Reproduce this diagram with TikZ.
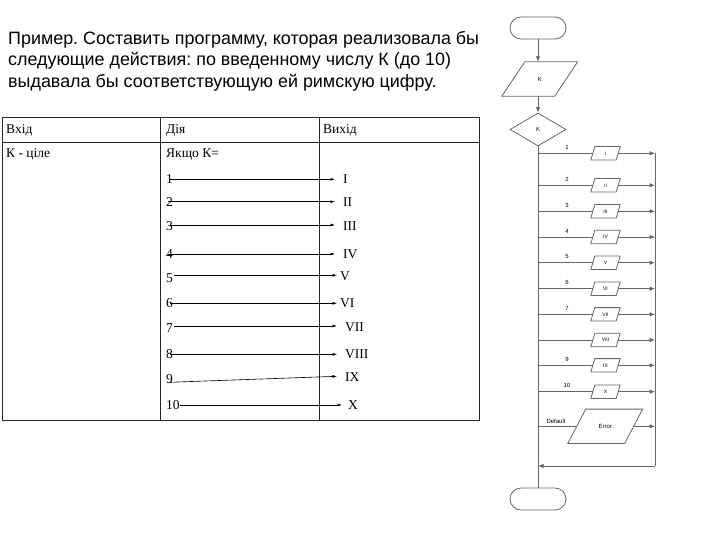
\documentclass[tikz,border=0pt]{standalone}
\usepackage{fontspec}
\setmainfont{Liberation Serif}
\newfontfamily\arialf{Liberation Sans}
\usetikzlibrary{shapes.geometric,arrows.meta,calc}
\frenchspacing
\begin{document}
\begin{tikzpicture}[x=1pt,y=-1pt,
  head/.style={anchor=base west, inner sep=0pt, font=\arialf\fontsize{17.9}{20}\selectfont},
  tbl/.style={draw=black!85, line width=1pt},
  ttext/.style={anchor=base west, inner sep=0pt, font=\fontsize{13.5}{15}\selectfont},
  num/.style={anchor=west, inner sep=0pt, font=\fontsize{13.5}{15}\selectfont},
  rom/.style={anchor=west, inner sep=0pt, font=\fontsize{13.5}{15}\selectfont},
  tarr/.style={draw=black, line width=0.6pt, -{Latex[length=4.5pt,width=3pt]}},
  fl/.style={draw=black!60, line width=0.8pt},
  flarr/.style={fl, -{Latex[length=5.5pt,width=4.5pt]}},
  term/.style={fl, rectangle, rounded corners=11pt, minimum width=56pt, minimum height=22pt},
  iobig/.style={rectangle, minimum width=52.5pt, minimum height=34pt, inner sep=0pt, font=\arialf\fontsize{6}{7}\selectfont},
  iosmall/.style={rectangle, minimum width=25pt, minimum height=13pt, inner sep=0pt, font=\arialf\fontsize{5}{6}\selectfont},
  ioerr/.style={rectangle, minimum width=56.5pt, minimum height=34pt, inner sep=0pt, font=\arialf\fontsize{6}{7}\selectfont},
  dia/.style={fl, diamond, minimum width=56pt, minimum height=33pt, inner sep=0pt, font=\arialf\fontsize{6}{7}\selectfont},
  blab/.style={inner sep=0pt, font=\arialf\fontsize{6}{7}\selectfont}
]
\useasboundingbox (0,0) rectangle (720,540);

% heading
\node[head] (h1) at (8,45) {Пример. Составить программу, которая реализовала бы};
\node[head] (h2) at (8,66) {следующие действия: по введенному числу К (до 10)};
\node[head] (h3) at (8,87.5) {выдавала бы соответствующую ей римскую цифру.};

% table
\draw[tbl] (2,117.3) rectangle (479,420.7);
\draw[tbl] (2,142.3) -- (479,142.3);
\draw[tbl] (160,117.3) -- (160,420.7);
\draw[tbl] (319,117.3) -- (319,420.7);
\node[ttext] (c1) at (6,134) {Вхід};
\node[ttext] (c2) at (166,134) {Дія};
\node[ttext] (c3) at (323,134) {Вихід};
\node[ttext] (k1) at (6,158) {К - ціле};
\node[ttext] (k2) at (166,158) {Якщо К=};

\foreach \i/\ny in {1/179, 2/201.7, 3/226, 4/254, 5/278, 6/303, 7/328, 8/354, 9/379, 10/405}{
  \node[num] (n\i) at (166,\ny) {\i};
}
\node[rom] (r1) at (343,179) {I};
\node[rom] (r2) at (343,201.7) {II};
\node[rom] (r3) at (343,226) {III};
\node[rom] (r4) at (343,254) {IV};
\node[rom] (r5) at (340,276) {V};
\node[rom] (r6) at (340,303) {VI};
\node[rom] (r7) at (345,327) {VII};
\node[rom] (r8) at (345,354) {VIII};
\node[rom] (r9) at (345,377) {IX};
\node[rom] (r10) at (348,405) {X};

\draw[tarr] ([xshift=4pt]n1.west |- 0,179.3) -- ([xshift=-8pt]r1.west |- 0,179.3);
\draw[tarr] ([xshift=2pt]n2.west |- 0,201.7) -- ([xshift=-8pt]r2.west |- 0,201.7);
\draw[tarr] ([xshift=4pt]n3.west |- 0,225) -- ([xshift=-8pt]r3.west |- 0,225);
\draw[tarr] ([xshift=2pt]n4.west |- 0,254) -- ([xshift=-8pt]r4.west |- 0,254);
\draw[tarr] ([xshift=8pt]n5.west |- 0,275.3) -- ([xshift=-3pt]r5.west |- 0,275.3);
\draw[tarr] ([xshift=4pt]n6.west |- 0,303.3) -- ([xshift=-3pt]r6.west |- 0,303.3);
\draw[tarr] ([xshift=8pt]n7.west |- 0,326) -- ([xshift=-8pt]r7.west |- 0,326);
\draw[tarr] ([xshift=4pt]n8.west |- 0,354.3) -- ([xshift=-8pt]r8.west |- 0,354.3);
\draw[tarr] ([xshift=3pt]n9.west |- 0,382.3) -- ([xshift=-8pt]r9.west |- 0,376.3);
\draw[tarr] ([xshift=14pt]n10.west |- 0,405) -- ([xshift=-6pt]r10.west |- 0,405);

% flowchart
\node[term] (start) at (538,28) {};
\node[iobig] (inK) at (539.75,79) {K};
\draw[fl] ([xshift=11.5pt]inK.north west) -- ([xshift=11.5pt]inK.north east)
  -- ([xshift=-11.5pt]inK.south east) -- ([xshift=-11.5pt]inK.south west) -- cycle;
\node[dia] (dec) at (538,129.5) {K};
\node[term] (stop) at (538,499) {};
\draw[flarr] (start.south) -- (inK.north -| start.south);
\draw[flarr] (inK.south -| dec.north) -- (dec.north);
\draw[fl] (dec.south) -- (stop.north);

\foreach \i/\y/\t/\lab in {1/153.3/I/1, 2/185.3/II/2, 3/211.3/III/3, 4/237/IV/4, 5/262.7/V/5,
  6/288.7/VI/6, 7/314.3/VII/7, 8/340/VIII/, 9/365.3/IX/9, 10/391.7/X/10}{
  \coordinate (t\i) at (538,\y);
  \coordinate (e\i) at (655,\y);
  \node[iosmall] (o\i) at (605.5,\y) {\t};
  \draw[fl] ([xshift=2pt]o\i.north west) -- ([xshift=2pt]o\i.north east)
    -- ([xshift=-2pt]o\i.south east) -- ([xshift=-2pt]o\i.south west) -- cycle;
  \node[blab] (l\i) at (567,\y-6) {\lab};
  \draw[fl] (t\i) -- (o\i.west);
  \draw[flarr] (o\i.east) -- (e\i);
}
\coordinate (td) at (538,426.3);
\coordinate (ed) at (655,426.3);
\node[ioerr] (err) at (605.2,426.3) {Error};
\draw[fl] ([xshift=9pt]err.north west) -- ([xshift=9pt]err.north east)
  -- ([xshift=-9pt]err.south east) -- ([xshift=-9pt]err.south west) -- cycle;
\node[blab] (ld) at (556,421) {Default};
\draw[fl] (td) -- (err.west);
\draw[flarr] (err.east) -- (ed);
\coordinate (ret) at (655,466);
\coordinate (retin) at (538,466);
\draw[fl] (e1) -- (ret);
\draw[flarr] (ret) -- (retin);
\end{tikzpicture}
\end{document}
